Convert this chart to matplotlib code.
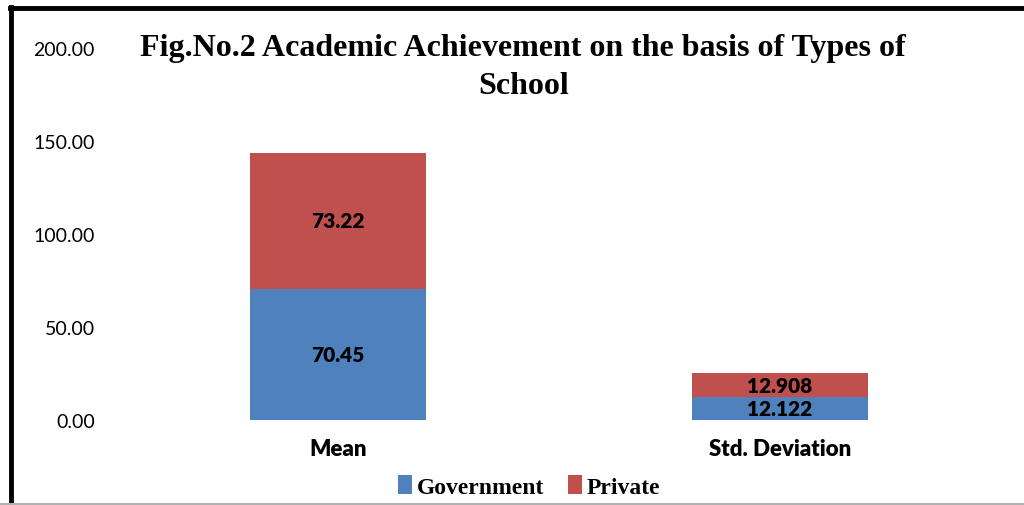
import numpy as np
import matplotlib.pyplot as plt
from matplotlib.lines import Line2D

# data
categories = ['Mean', 'Std. Deviation']
government = [70.45, 12.122]
private = [73.22, 12.908]
gov_labels = ['70.45', '12.122']
priv_labels = ['73.22', '12.908']
yticks = [0, 50, 100, 150, 200]

blue = '#4F81BD'
red = '#C0504D'

fig = plt.figure(figsize=(10.24, 5.06), dpi=100)
ax = fig.add_axes([0.1143, 0.168, 0.8633, 0.735])

x = np.arange(len(categories))
b1 = ax.bar(x, government, width=0.4, color=blue, label='Government')
b2 = ax.bar(x, private, width=0.4, bottom=government, color=red, label='Private')

ax.bar_label(b1, labels=gov_labels, label_type='center', fontsize=15,
             fontweight='heavy', family='Lato', color='black')
ax.bar_label(b2, labels=priv_labels, label_type='center', fontsize=15,
             fontweight='heavy', family='Lato', color='black')

ax.set_xlim(-0.5, 1.5)
ax.set_ylim(0, 200)
ax.set_yticks(yticks)
ax.set_yticklabels(['%.2f' % v for v in yticks], family='Lato', fontsize=14)
ax.set_xticks(x)
ax.set_xticklabels(categories, family='Lato', fontsize=16, fontweight='heavy')
ax.tick_params(length=0)
ax.tick_params(axis='y', pad=16)
ax.tick_params(axis='x', pad=13)
for s in ax.spines.values():
    s.set_visible(False)

fig.text(0.511, 0.866, 'Fig.No.2 Academic Achievement on the basis of Types of\nSchool',
         ha='center', va='center', family='Liberation Serif', fontweight='bold',
         fontsize=23, linespacing=1.4)

fig.legend(handles=[b1, b2], loc='center', bbox_to_anchor=(0.517, 0.037), ncol=2,
           frameon=False, prop={'family': 'Liberation Serif', 'weight': 'bold', 'size': 17},
           handlelength=0.6, handleheight=0.9, handletextpad=0.2, columnspacing=1.0)

# frame round the chart
fig.add_artist(Line2D([0.0098, 1.0], [0.982, 0.982], color='black', lw=3.5,
                      transform=fig.transFigure))
fig.add_artist(Line2D([0.0103, 0.0103], [0.0, 0.984], color='black', lw=3.5,
                      transform=fig.transFigure))
fig.add_artist(Line2D([0.0, 1.0], [0.002, 0.002], color='#b0b0b0', lw=1.5,
                      transform=fig.transFigure))

fig.savefig('out.png', dpi=100)
